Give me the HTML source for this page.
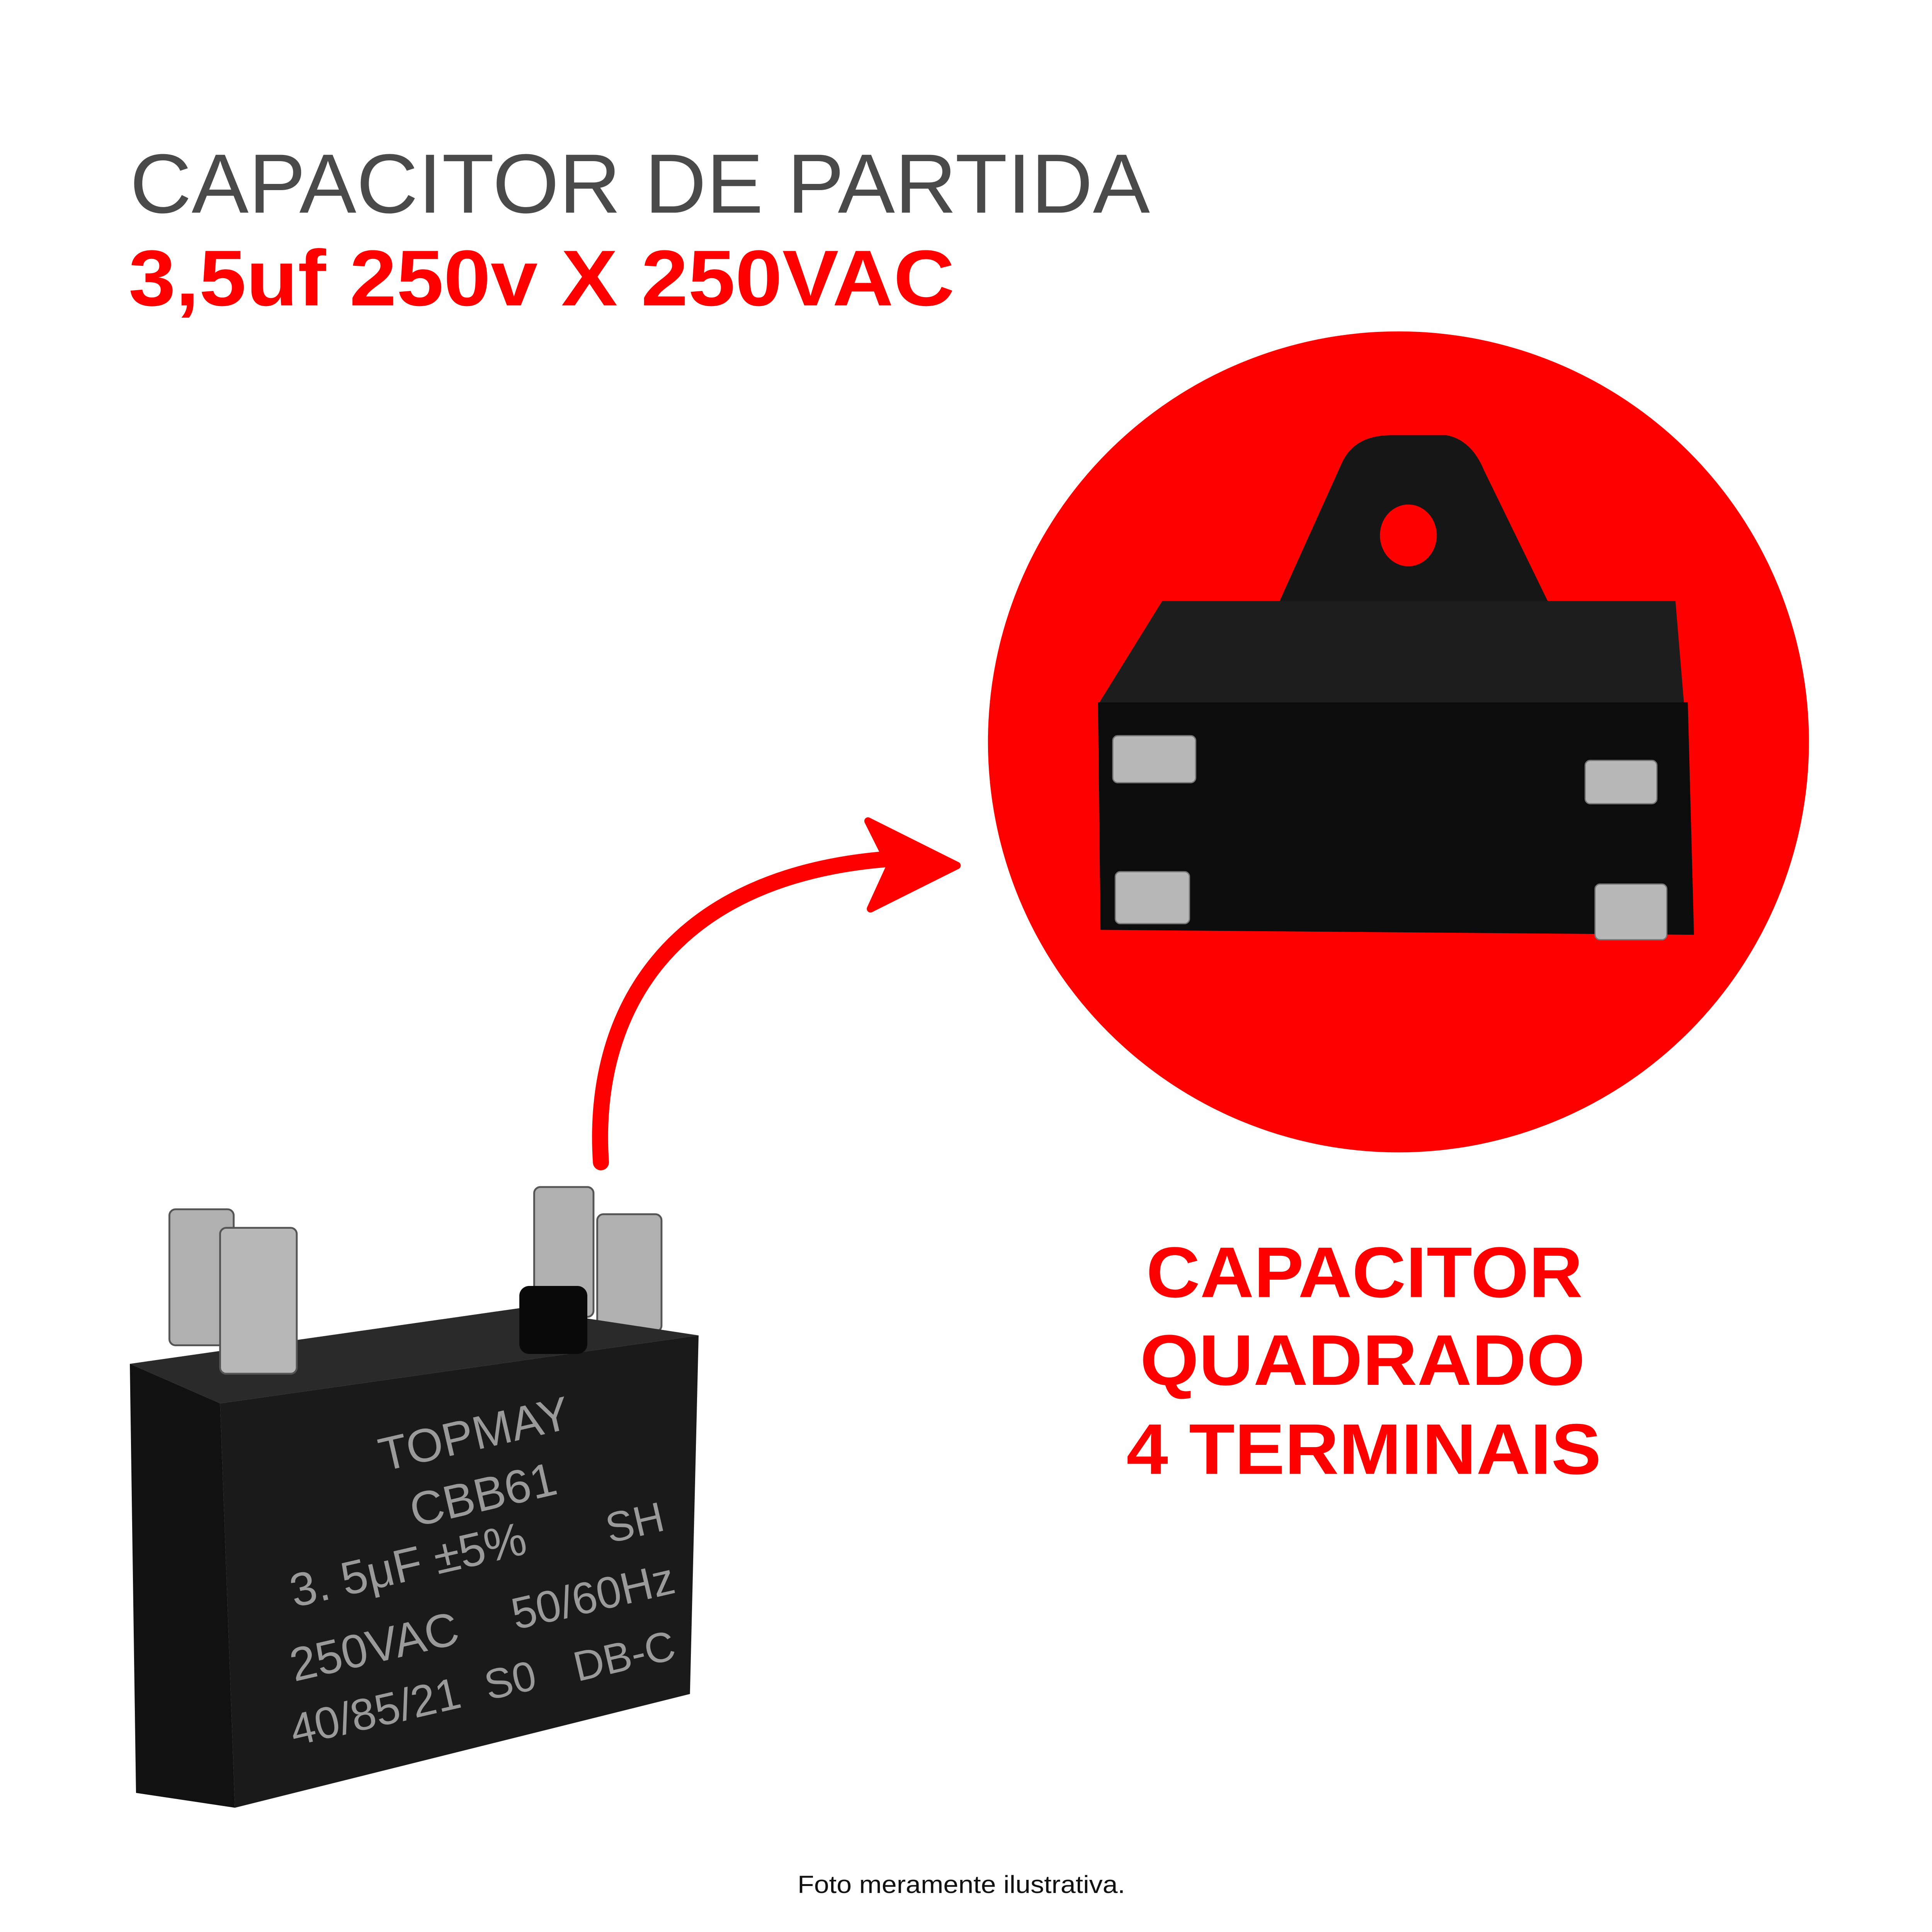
<!DOCTYPE html>
<html><head><meta charset="utf-8"><style>
html,body{margin:0;padding:0;background:#fff;overflow:hidden;width:100vw;height:100vh}
svg{display:block;width:100vw;height:100vh}
</style></head><body>
<svg viewBox="0 0 1562.5 1562.5" preserveAspectRatio="xMinYMin meet" xmlns="http://www.w3.org/2000/svg">
<rect width="1562.5" height="1562.5" fill="#fff"/>
<text x="105" y="172" font-family="Liberation Sans, sans-serif" font-size="68" fill="#4a4a4a" textLength="825" lengthAdjust="spacingAndGlyphs">CAPACITOR DE PARTIDA</text>
<text x="104" y="247" font-family="Liberation Sans, sans-serif" font-weight="bold" font-size="64" fill="#ff0000" textLength="668" lengthAdjust="spacingAndGlyphs">3,5uf 250v X 250VAC</text>

<circle cx="1131" cy="600" r="332" fill="#ff0000"/>
<path d="M1030,497 L1085,375 Q1095,352 1125,352 L1170,352 Q1190,356 1200,380 L1257,497 Z" fill="#161616"/>
<ellipse cx="1139" cy="433" rx="23" ry="25" fill="#ff0000"/>
<polygon points="888,570 940,486 1355,486 1362,570" fill="#1d1d1d"/>
<polygon points="888,568 1365,568 1370,756 890,752" fill="#0c0c0c"/>
<g fill="#b8b8b8" stroke="#777" stroke-width="1">
<rect x="900" y="595" width="67" height="38" rx="4"/>
<rect x="1282" y="615" width="58" height="35" rx="4"/>
<rect x="902" y="705" width="60" height="42" rx="4"/>
<rect x="1290" y="715" width="58" height="45" rx="4"/>
</g>

<path d="M486,940 C478,820 540,710 715,695" fill="none" stroke="#ff0000" stroke-width="13" stroke-linecap="round"/>
<path d="M702,664 L774,700 L704,735 L720,700 Z" fill="#ff0000" stroke="#ff0000" stroke-width="6" stroke-linejoin="round"/>

<g font-family="Liberation Sans, sans-serif" font-weight="bold" font-size="58" fill="#ff0000" lengthAdjust="spacingAndGlyphs">
<text x="927" y="1049" textLength="353" lengthAdjust="spacingAndGlyphs">CAPACITOR</text>
<text x="922" y="1120" textLength="360" lengthAdjust="spacingAndGlyphs">QUADRADO</text>
<text x="911" y="1192" textLength="384" lengthAdjust="spacingAndGlyphs">4 TERMINAIS</text>
</g>

<g fill="#b0b0b0" stroke="#555" stroke-width="1.5">
<rect x="137" y="978" width="52" height="110" rx="5"/>
<rect x="432" y="960" width="48" height="105" rx="5"/>
<rect x="483" y="982" width="52" height="95" rx="5"/>
</g>
<polygon points="105,1103 420,1058 565,1080 178,1135" fill="#2a2a2a"/>
<polygon points="105,1103 178,1135 190,1462 110,1450" fill="#111"/>
<polygon points="178,1135 565,1080 558,1370 190,1462" fill="#1a1a1a"/>
<rect x="178" y="993" width="62" height="118" rx="5" fill="#b8b8b8" stroke="#555" stroke-width="1.5"/>
<rect x="420" y="1040" width="55" height="55" rx="8" fill="#0a0a0a"/>
<g font-family="Liberation Sans, sans-serif" font-size="38" fill="#9a9a9a">
<text transform="translate(310,1190) rotate(-13)">TOPMAY</text>
<text transform="translate(335,1235) rotate(-13)">CBB61</text>
<text transform="translate(493,1248) rotate(-13)" font-size="34">SH</text>
<text transform="translate(238,1300) rotate(-13)">3. 5μF ±5%</text>
<text transform="translate(417,1318) rotate(-13)" font-size="36">50/60Hz</text>
<text transform="translate(238,1360) rotate(-13)">250VAC</text>
<text transform="translate(395,1375) rotate(-13)" font-size="34">S0</text>
<text transform="translate(467,1360) rotate(-13)" font-size="34">DB-C</text>
<text transform="translate(238,1412) rotate(-13)" font-size="36">40/85/21</text>
</g>

<text x="645" y="1531" font-family="Liberation Sans, sans-serif" font-size="20" fill="#111" textLength="265" lengthAdjust="spacingAndGlyphs">Foto meramente ilustrativa.</text>
</svg>
</body></html>
